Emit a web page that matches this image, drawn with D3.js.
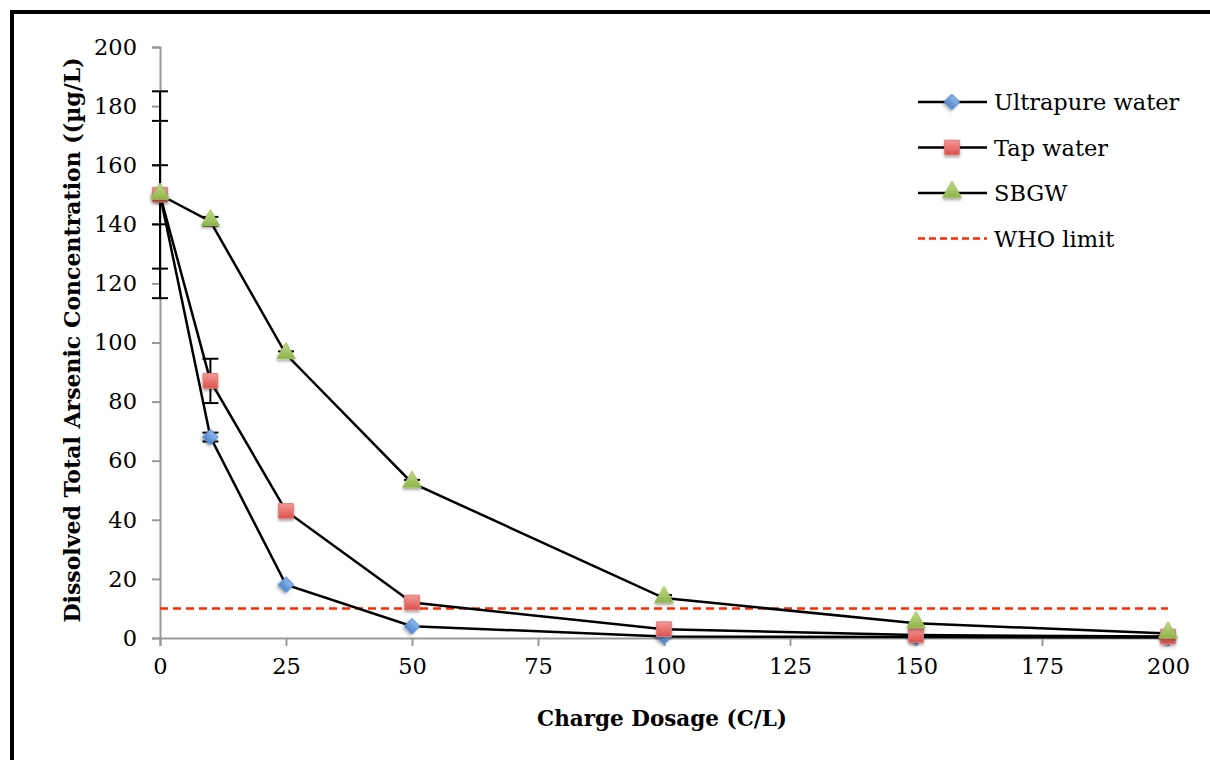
<!DOCTYPE html>
<html>
<head>
<meta charset="utf-8">
<script src="https://cdn.jsdelivr.net/npm/d3@7"></script>
<style>
  body { margin: 0; background: #fff; }
  text { font-family: "DejaVu Serif", "Liberation Serif", serif; }
</style>
</head>
<body>
<div class="container"></div>
<script>
let dosage = [0, 10, 25, 50, 100, 150, 200];
let ultrapure = [150, 68, 18, 4, 0.5, 0.3, 0.2];
let tapWater = [150, 87, 43, 12, 3, 1, 0.5];
let sbgw = [150, 141, 96, 52.5, 13.5, 5, 1.5];
let ultrapureErr = [35, 1.5, 0, 0, 0, 0, 0];
let tapErr = [25, 7.5, 0, 0, 0, 0, 0];
let sbgwErr = [10, 1.5, 1, 1, 1, 0, 0];
let whoLimit = 10;
let xTicks = [0, 25, 50, 75, 100, 125, 150, 175, 200];
let yTicks = [0, 20, 40, 60, 80, 100, 120, 140, 160, 180, 200];
let seriesNames = ["Ultrapure water", "Tap water", "SBGW", "WHO limit"];

let svg = d3.select(".container").append("svg")
    .attr("width", 1210)
    .attr("height", 760);

let margin = {top: 47, left: 160, right: 42, bottom: 122};
let width = 1210 - margin.left - margin.right,
    height = 760 - margin.top - margin.bottom;

// frame lines (top and left only)
svg.append("rect").attr("x", 10).attr("y", 10).attr("width", 1200).attr("height", 4).attr("fill", "#000");
svg.append("rect").attr("x", 10).attr("y", 10).attr("width", 4).attr("height", 750).attr("fill", "#000");

let xScale = d3.scaleLinear().domain([0, 200]).range([0, width]);
let yScale = d3.scaleLinear().domain([0, 200]).range([height, 0]);

let defs = svg.append("defs");
function grad(id, c1, c2) {
    let g = defs.append("linearGradient").attr("id", id)
        .attr("x1", 0).attr("y1", 0).attr("x2", 0).attr("y2", 1);
    g.append("stop").attr("offset", "0%").attr("stop-color", c1);
    g.append("stop").attr("offset", "100%").attr("stop-color", c2);
}
grad("gBlue", "#8fb8ec", "#4f86cc");
grad("gRed", "#f49a97", "#dc4f4b");
grad("gGreen", "#c4dc8a", "#8db34a");
let shadow = defs.append("filter").attr("id", "shadow").attr("x", "-50%").attr("y", "-50%").attr("width", "200%").attr("height", "200%");
shadow.append("feDropShadow").attr("dx", 0).attr("dy", 2).attr("stdDeviation", 1.5).attr("flood-opacity", 0.35);

let g = svg.append("g").attr("transform", "translate(" + margin.left + "," + margin.top + ")");

// axes
let yAxis = d3.axisLeft(yScale).tickValues(yTicks).tickSize(8).tickPadding(15);
let xAxis = d3.axisBottom(xScale).tickValues(xTicks).tickSize(8).tickPadding(12);

let gy = g.append("g").call(yAxis);
let gx = g.append("g").attr("transform", "translate(0," + height + ")").call(xAxis);
[gx, gy].forEach(function (a) {
    a.attr("font-family", null);
    a.select(".domain").attr("stroke", "#999").attr("stroke-width", 2);
    a.selectAll(".tick line").attr("stroke", "#999").attr("stroke-width", 2);
    a.selectAll("text").attr("font-size", 22.5).attr("fill", "#000");
});

// WHO limit
g.append("line")
    .attr("x1", xScale(0)).attr("x2", xScale(200))
    .attr("y1", yScale(whoLimit)).attr("y2", yScale(whoLimit))
    .attr("stroke", "#ff2a00").attr("stroke-width", 2.5).attr("stroke-dasharray", "8,5");

let series = [
    {name: "Ultrapure water", values: ultrapure, err: ultrapureErr, shape: d3.symbolSquare, rot: 45, size: 115, dy: 0, fill: "url(#gBlue)", stroke: "#5b8fd0"},
    {name: "Tap water", values: tapWater, err: tapErr, shape: d3.symbolSquare, rot: 0, size: 215, dy: 0, fill: "url(#gRed)", stroke: "#e07a77"},
    {name: "SBGW", values: sbgw, err: sbgwErr, shape: d3.symbolTriangle, rot: 0, size: 150, dy: -1, fill: "url(#gGreen)", stroke: "#a3c460"}
];

let line = d3.line()
    .x(function (d, i) { return xScale(dosage[i]); })
    .y(function (d) { return yScale(d); });

series.forEach(function (s) {
    g.append("path").datum(s.values)
        .attr("d", line)
        .attr("fill", "none")
        .attr("stroke", "#000")
        .attr("stroke-width", 2.5);
});

// error bars
series.forEach(function (s) {
    s.values.forEach(function (v, i) {
        let e = s.err[i];
        if (!e) return;
        let cx = xScale(dosage[i]);
        let eb = g.append("g").attr("stroke", "#000").attr("stroke-width", 2);
        eb.append("line").attr("x1", cx).attr("x2", cx).attr("y1", yScale(v - e)).attr("y2", yScale(v + e));
        eb.append("line").attr("x1", cx - 8).attr("x2", cx + 8).attr("y1", yScale(v - e)).attr("y2", yScale(v - e));
        eb.append("line").attr("x1", cx - 8).attr("x2", cx + 8).attr("y1", yScale(v + e)).attr("y2", yScale(v + e));
    });
});

series.forEach(function (s) {
    g.selectAll(null).data(s.values).enter()
        .append("path")
        .attr("d", d3.symbol().type(s.shape).size(s.size))
        .attr("transform", function (d, i) {
            return "translate(" + xScale(dosage[i]) + "," + (yScale(d) + s.dy) + ") rotate(" + s.rot + ")";
        })
        .attr("fill", s.fill)
        .attr("stroke", s.stroke)
        .attr("stroke-width", 1)
        .attr("filter", "url(#shadow)");
});

// legend
let legend = svg.append("g").attr("transform", "translate(918,102)");
seriesNames.forEach(function (name, i) {
    let row = legend.append("g").attr("transform", "translate(0," + (i * 45.5) + ")");
    if (i < 3) {
        let s = series[i];
        row.append("line").attr("x1", 0).attr("x2", 69).attr("y1", 0).attr("y2", 0)
            .attr("stroke", "#000").attr("stroke-width", 2.5);
        row.append("path")
            .attr("d", d3.symbol().type(s.shape).size(s.size))
            .attr("transform", "translate(34," + s.dy + ") rotate(" + s.rot + ")")
            .attr("fill", s.fill).attr("stroke", s.stroke)
            .attr("filter", "url(#shadow)");
    } else {
        row.append("line").attr("x1", 0).attr("x2", 69).attr("y1", 0).attr("y2", 0)
            .attr("stroke", "#ff2a00").attr("stroke-width", 2.5).attr("stroke-dasharray", "7,4");
    }
    row.append("text").attr("x", 76).attr("y", 8).attr("font-size", 22.5).text(name);
});

// axis titles
svg.append("text")
    .attr("x", 662).attr("y", 726)
    .attr("text-anchor", "middle")
    .attr("font-size", 21.5).attr("font-weight", "bold")
    .text("Charge Dosage (C/L)");

svg.append("text")
    .attr("transform", "translate(80," + 340 + ") rotate(-90)")
    .attr("text-anchor", "middle")
    .attr("font-size", 22).attr("font-weight", "bold")
    .text("Dissolved Total Arsenic Concentration ((µg/L)");
</script>
</body>
</html>
